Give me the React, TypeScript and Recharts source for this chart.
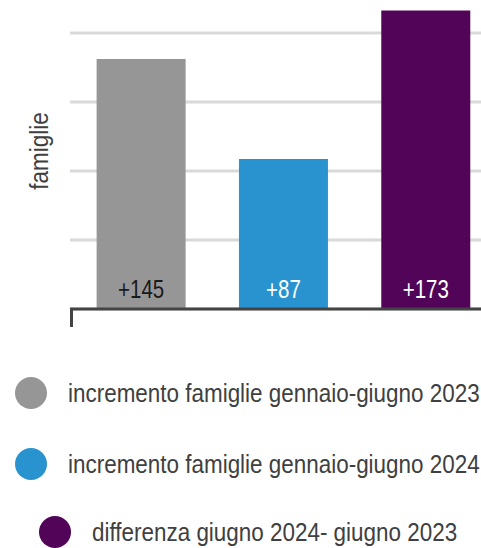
import { Bar, BarChart, CartesianGrid, Cell, LabelList, XAxis, YAxis } from "recharts";

const categories = [
  "incremento famiglie gennaio-giugno 2023",
  "incremento famiglie gennaio-giugno 2024",
  "differenza giugno 2024- giugno 2023",
];
const values = [145, 87, 173];
const barColors = ["#969696", "#2893ce", "#520458"];
const labelColors = ["#1a1a1a", "#ffffff", "#ffffff"];
const yTicks = [0, 40, 80, 120, 160];

// rough per-row offsets so the legend rows sit centred like the original
const legendLeft = [15, 15, 39];
const legendTop = [377, 448, 516];

const font = '"Liberation Sans", Arial, sans-serif';
const textColor = "#404040";

const data = categories.map((name, i) => ({ name, value: values[i] }));

function BarValue(props: any) {
  const { x, y, width, height, value, index } = props;
  const cx = x + width / 2;
  const by = y + height - 11;
  return (
    <text
      transform={`translate(${cx} ${by}) scale(0.82 1)`}
      textAnchor="middle"
      fill={labelColors[index]}
      fontSize={25}
      fontFamily={font}
    >
      {`+${value}`}
    </text>
  );
}

function AxisTitle() {
  return (
    <text
      transform="translate(48 187) rotate(-90) scale(0.9 1)"
      textAnchor="middle"
      fill={textColor}
      fontSize={25}
      fontFamily={font}
    >
      famiglie
    </text>
  );
}

export default function App() {
  return (
    <div
      style={{
        position: "fixed",
        top: 0,
        left: 0,
        width: 481,
        height: 548,
        overflow: "hidden",
        background: "#fff",
        fontFamily: font,
      }}
    >
      <div style={{ position: "absolute", top: -36, left: 0 }}>
        <BarChart
          width={497}
          height={375}
          data={data}
          margin={{ top: 0, right: 0, bottom: 29, left: 0 }}
          barCategoryGap="18.7%"
        >
          <CartesianGrid vertical={false} stroke="#d9d9d9" strokeWidth={3} />
          <XAxis
            dataKey="name"
            tick={false}
            tickLine={false}
            height={1}
            axisLine={{ stroke: "#444444", strokeWidth: 3 }}
          />
          <YAxis
            width={70}
            domain={[0, 200]}
            ticks={yTicks}
            tick={{ fill: "none" }}
            tickLine={false}
            axisLine={false}
            label={<AxisTitle />}
          />
          <Bar dataKey="value" isAnimationActive={false}>
            {data.map((d, i) => (
              <Cell key={d.name} fill={barColors[i]} />
            ))}
            <LabelList dataKey="value" content={<BarValue />} />
          </Bar>
        </BarChart>
      </div>
      <div
        style={{
          position: "absolute",
          left: 70,
          top: 308,
          width: 2.5,
          height: 19,
          background: "#444444",
        }}
      />
      {categories.map((name, i) => (
        <div
          key={name}
          style={{
            position: "absolute",
            left: legendLeft[i],
            top: legendTop[i],
            display: "flex",
            alignItems: "center",
            height: 32,
          }}
        >
          <span
            style={{
              width: 32,
              height: 32,
              borderRadius: "50%",
              background: barColors[i],
              marginRight: 21,
              flexShrink: 0,
            }}
          />
          <span
            style={{
              fontSize: 25.5,
              color: textColor,
              whiteSpace: "nowrap",
              display: "inline-block",
              transform: "scaleX(0.88)",
              transformOrigin: "left center",
            }}
          >
            {name}
          </span>
        </div>
      ))}
    </div>
  );
}
